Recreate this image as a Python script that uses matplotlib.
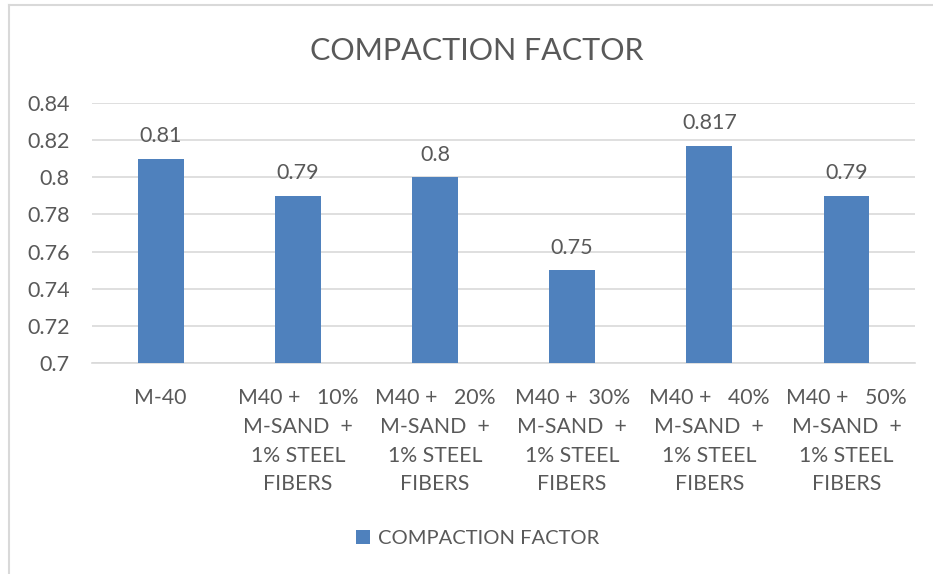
import matplotlib
matplotlib.use('Agg')
import matplotlib.pyplot as plt
from matplotlib.lines import Line2D
from matplotlib.patches import Patch
import numpy as np

plt.rcParams['font.family'] = ['Lato', 'DejaVu Sans']

categories = [
    'M-40',
    'M40 +   10%\nM-SAND  +\n1% STEEL\nFIBERS',
    'M40 +   20%\nM-SAND  +\n1% STEEL\nFIBERS',
    'M40 +  30%\nM-SAND  +\n1% STEEL\nFIBERS',
    'M40 +   40%\nM-SAND  +\n1% STEEL\nFIBERS',
    'M40 +   50%\nM-SAND  +\n1% STEEL\nFIBERS',
]
values = [0.81, 0.79, 0.8, 0.75, 0.817, 0.79]
value_labels = ['0.81', '0.79', '0.8', '0.75', '0.817', '0.79']
yticks = [0.7, 0.72, 0.74, 0.76, 0.78, 0.8, 0.82, 0.84]

bar_color = '#4F81BD'
text_color = '#595959'
grid_color = '#D9D9D9'

fig = plt.figure(figsize=(9.33, 5.74), dpi=100)
ax = fig.add_axes([0.0986, 0.3676, 0.8822, 0.453])

x = np.arange(len(values))
ax.bar(x, values, width=0.335, color=bar_color, zorder=3)

for xi, v, lab in zip(x, values, value_labels):
    ax.annotate(lab, (xi, v), xytext=(0, 9), textcoords='offset points',
                ha='center', va='bottom', fontsize=15.5, color=text_color)

ax.set_ylim(0.7, 0.84)
ax.set_xlim(-0.5, len(values) - 0.5)
ax.set_yticks(yticks)
ax.set_yticklabels([f'{t:g}' for t in yticks])
ax.set_xticks(x)
ax.set_xticklabels(categories, linespacing=1.55)
ax.tick_params(axis='y', length=0, pad=16, labelsize=15.5, labelcolor=text_color)
ax.tick_params(axis='x', length=0, pad=18, labelsize=15.3, labelcolor=text_color)
for t in ax.get_xticklabels():
    t.set_verticalalignment('top')

ax.grid(axis='y', color=grid_color, linewidth=1.2, zorder=0)
for s in ['top', 'right', 'left']:
    ax.spines[s].set_visible(False)
ax.spines['bottom'].set_color(grid_color)
ax.spines['bottom'].set_linewidth(1.2)

fig.text(0.511, 0.912, 'COMPACTION FACTOR', ha='center', va='center',
         fontsize=22, color=text_color)

handle = Patch(facecolor=bar_color, edgecolor='none')
fig.legend([handle], ['COMPACTION FACTOR'], loc='center', bbox_to_anchor=(0.512, 0.062),
           frameon=False, fontsize=14.5, labelcolor=text_color,
           handlelength=0.7, handleheight=0.7, handletextpad=0.4)

# outer chart frame, top and left edges
fig.add_artist(Line2D([0.0096, 1.0], [0.991, 0.991], color='#D9D9D9', linewidth=1.5))
fig.add_artist(Line2D([0.0096, 0.0096], [0.0, 0.991], color='#D9D9D9', linewidth=1.5))

fig.savefig('out.png', dpi=100)
